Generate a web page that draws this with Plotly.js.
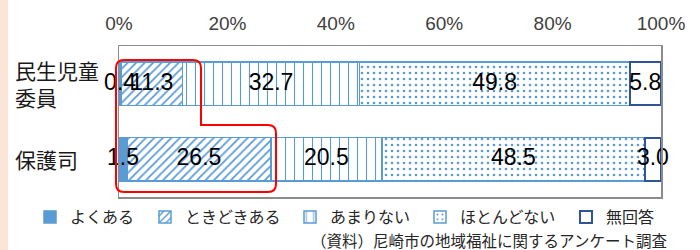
<!DOCTYPE html>
<html><head><meta charset="utf-8">
<script src="https://cdn.plot.ly/plotly-3.0.1.min.js"></script>
<style>
html,body{margin:0;padding:0;}
body{background:linear-gradient(to right,#FBE5D9 0,#FBE5D9 8px,#ffffff 8px);}
#chart{width:700px;height:250px;}
</style></head>
<body><div id="chart"></div>
<script>
const categories = ['民生児童委員', '保護司'];
const categoryLabels = ['民生児童<br>委員', '保護司'];
const seriesNames = ['よくある', 'ときどきある', 'あまりない', 'ほとんどない', '無回答'];
const yokuAru = [0.4, 1.5];
const tokidoki = [11.3, 26.5];
const amari = [32.7, 20.5];
const hotondo = [49.8, 48.5];
const mukaitou = [5.8, 3.0];
const tickVals = [0, 20, 40, 60, 80, 100];
const sourceText = '（資料）尼崎市の地域福祉に関するアンケート調査';

const seriesValues = [yokuAru, tokidoki, amari, hotondo, mukaitou];
const blue = '#5B9BD5';
const navy = '#2F5597';
const styles = [
  {color: blue, line: {color: blue, width: 1.5}},
  {color: '#ffffff', line: {color: blue, width: 1.5}, pattern: {shape: '/', fgcolor: blue, bgcolor: '#ffffff', size: 6, solidity: 0.3}},
  {color: '#ffffff', line: {color: blue, width: 1.5}, pattern: {shape: '|', fgcolor: blue, bgcolor: '#ffffff', size: 9, solidity: 0.12}},
  {color: '#ffffff', line: {color: blue, width: 1.5}, pattern: {shape: '.', fgcolor: blue, bgcolor: '#ffffff', size: 6, solidity: 0.15}},
  {color: '#ffffff', line: {color: navy, width: 2}}
];
const legendIds = ['legend', 'legend2', 'legend3', 'legend4', 'legend5'];

const traces = seriesNames.map((name, i) => ({
  type: 'bar', orientation: 'h', name: name,
  y: categories, x: seriesValues[i],
  marker: styles[i], hoverinfo: 'skip', legend: legendIds[i]
}));

// label positions: midpoints of each stacked segment
const labelX = [], labelY = [], labelT = [];
categories.forEach((c, ci) => {
  let cum = 0;
  seriesValues.forEach(vals => {
    const v = vals[ci];
    labelX.push(cum + v / 2); labelY.push(c); labelT.push(v.toFixed(1));
    cum += v;
  });
});
traces.push({
  type: 'scatter', mode: 'text', x: labelX, y: labelY, text: labelT,
  textposition: 'middle center', showlegend: false, hoverinfo: 'skip',
  textfont: {family: 'Liberation Sans, Arial, sans-serif', size: 23, color: '#000000'},
  cliponaxis: false
});

const W = 542, H = 151;
const px = v => (v - 119) / W;
const py = v => (197 - v) / H;
const rx = 8 / W, ry = 8 / H;
const L = px(116), T = py(60), R1 = px(201), S = py(125), R2 = px(276), B = py(192);
const redPath = `M${L},${T - ry} Q${L},${T} ${L + rx},${T} L${R1 - rx},${T} Q${R1},${T} ${R1},${T - ry} ` +
  `L${R1},${S} L${R2 - rx},${S} Q${R2},${S} ${R2},${S - ry} L${R2},${B + ry} Q${R2},${B} ${R2 - rx},${B} ` +
  `L${L + rx},${B} Q${L},${B} ${L},${B + ry} Z`;

const annotations = categories.map((c, i) => ({
  xref: 'paper', yref: 'y', x: px(13), y: c, xanchor: 'left', yanchor: 'middle', align: 'left',
  text: categoryLabels[i], showarrow: false,
  font: {family: 'Noto Sans CJK JP, sans-serif', size: 21, color: '#1a1a1a'}
}));
annotations.push({
  xref: 'paper', yref: 'paper', x: px(669), y: py(240), xanchor: 'right', yanchor: 'middle',
  text: sourceText, showarrow: false,
  font: {family: 'Noto Sans CJK JP, sans-serif', size: 15.5, color: '#262626'}
});

const legendTextStart = [65, 180, 325, 455, 601];
const legendFont = {family: 'Noto Sans CJK JP, sans-serif', size: 16, color: '#262626'};

const layout = {
  width: 700, height: 250,
  margin: {l: 119, r: 39, t: 46, b: 53},
  paper_bgcolor: 'rgba(0,0,0,0)', plot_bgcolor: '#ffffff',
  barmode: 'stack', bargap: 0.424,
  showlegend: true,
  xaxis: {side: 'top', range: [0, 100], tickvals: tickVals, ticktext: tickVals.map(v => v + '%'),
    showgrid: false, zeroline: false, showline: true, mirror: true, linecolor: '#8c8c8c', linewidth: 1.5,
    ticks: '', fixedrange: true, ticklabelstandoff: 7,
    tickfont: {family: 'Liberation Sans, Arial, sans-serif', size: 19, color: '#404040'}},
  yaxis: {type: 'category', autorange: 'reversed', showticklabels: false, showgrid: false, zeroline: false,
    showline: true, mirror: true, linecolor: '#8c8c8c', linewidth: 1.5, ticks: '', fixedrange: true},
  shapes: [{type: 'path', xref: 'paper', yref: 'paper', path: redPath,
    line: {color: '#FF0000', width: 2}, fillcolor: 'rgba(0,0,0,0)', layer: 'above'}],
  annotations: annotations
};
legendIds.forEach((id, i) => {
  layout[id] = {orientation: 'h', x: px(legendTextStart[i] - 35), y: py(217), xanchor: 'left', yanchor: 'middle',
    font: legendFont, itemwidth: 30, bgcolor: 'rgba(0,0,0,0)'};
});

Plotly.newPlot('chart', traces, layout, {staticPlot: true});
</script></body></html>
